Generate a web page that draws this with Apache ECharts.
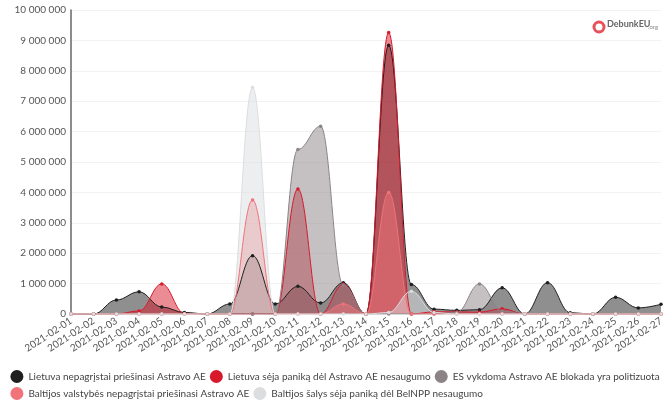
<!DOCTYPE html>
<html>
<head>
<meta charset="utf-8">
<script src="https://cdn.jsdelivr.net/npm/echarts@6/dist/echarts.min.js"></script>
<style>
  html, body { margin: 0; padding: 0; background: #fff; }
  #chart { width: 670px; height: 402px; }
</style>
</head>
<body>
<div id="chart"></div>
<script>
var dates = [
  "2021-02-01", "2021-02-02", "2021-02-03", "2021-02-04", "2021-02-05", "2021-02-06", "2021-02-07",
  "2021-02-08", "2021-02-09", "2021-02-10", "2021-02-11", "2021-02-12", "2021-02-13", "2021-02-14",
  "2021-02-15", "2021-02-16", "2021-02-17", "2021-02-18", "2021-02-19", "2021-02-20", "2021-02-21",
  "2021-02-22", "2021-02-23", "2021-02-24", "2021-02-25", "2021-02-26", "2021-02-27"
];

// Lietuva nepagrįstai priešinasi Astravo AE
var lietuvaPriesinasi = [
  0, 0, 460000, 730000, 230000, 50000, 0,
  330000, 1920000, 330000, 910000, 360000, 1030000, 0,
  8840000, 970000, 160000, 120000, 140000, 860000, 0,
  1030000, 40000, 0, 550000, 200000, 320000
];
// Lietuva sėja paniką dėl Astravo AE nesaugumo
var lietuvaPanika = [
  0, 0, 0, 100000, 990000, 20000, 0,
  0, 0, 0, 4110000, 0, 980000, 0,
  9260000, 0, 70000, 70000, 60000, 170000, 0,
  0, 0, 0, 0, 0, 0
];
// ES vykdoma Astravo AE blokada yra politizuota
var esBlokada = [
  0, 0, 0, 0, 0, 0, 0,
  0, 0, 0, 5410000, 6180000, 950000, 0,
  0, 0, 0, 50000, 990000, 100000, 0,
  0, 0, 0, 0, 0, 0
];
// Baltijos valstybės nepagrįstai priešinasi Astravo AE
var baltijosPriesinasi = [
  0, 0, 0, 0, 0, 0, 0,
  0, 3750000, 0, 0, 0, 330000, 0,
  4000000, 0, 0, 0, 0, 0, 0,
  0, 0, 0, 0, 0, 0
];
// Baltijos šalys sėja paniką dėl BelNPP nesaugumo
var baltijosPanika = [
  0, 0, 0, 0, 0, 0, 0,
  0, 7450000, 0, 0, 0, 0, 0,
  50000, 750000, 50000, 0, 0, 0, 0,
  0, 0, 0, 0, 0, 0
];

var seriesNames = [
  "Lietuva nepagrįstai priešinasi Astravo AE",
  "Lietuva sėja paniką dėl Astravo AE nesaugumo",
  "ES vykdoma Astravo AE blokada yra politizuota",
  "Baltijos valstybės nepagrįstai priešinasi Astravo AE",
  "Baltijos šalys sėja paniką dėl BelNPP nesaugumo"
];
var seriesData = [lietuvaPriesinasi, lietuvaPanika, esBlokada, baltijosPriesinasi, baltijosPanika];
var colors = ["#1f1f1f", "#d8192b", "#8b8385", "#f0737a", "#dcdddf"];

function spaced(v) {
  return String(v).replace(/\B(?=(\d{3})+(?!\d))/g, " ");
}

var chartDom = document.getElementById("chart");
var myChart = echarts.init(chartDom);
var option;

option = {
  animation: false,
  color: colors,
  textStyle: { fontFamily: "Lato" },
  grid: {
    left: 71,
    right: 9,
    top: 10,
    bottom: 88
  },
  legend: {
    data: seriesNames,
    left: "center",
    top: 365,
    width: 668,
    icon: "circle",
    itemWidth: 13,
    itemHeight: 13,
    itemGap: 4,
    textStyle: { fontSize: 10, color: "#444", fontFamily: "Lato" }
  },
  xAxis: {
    type: "category",
    boundaryGap: false,
    data: dates,
    axisLine: { show: false },
    axisTick: { show: false },
    axisLabel: {
      rotate: 33,
      interval: 0,
      fontSize: 10,
      color: "#555",
      margin: 6
    }
  },
  yAxis: {
    type: "value",
    min: 0,
    max: 10000000,
    interval: 1000000,
    axisLine: { show: true, lineStyle: { color: "#666", width: 1.5 } },
    axisTick: { show: false },
    splitLine: { lineStyle: { color: "#f2f2f2" } },
    axisLabel: {
      fontSize: 10,
      color: "#555",
      margin: 5,
      formatter: spaced
    }
  },
  graphic: [
    {
      type: "circle",
      shape: { cx: 599, cy: 27, r: 5 },
      style: { fill: "none", stroke: "#e8505b", lineWidth: 3 }
    },
    {
      type: "text",
      left: 607,
      top: 20,
      style: { text: "DebunkEU", fill: "#666", font: "bold 9px Lato" }
    },
    {
      type: "text",
      left: 648,
      top: 24,
      style: { text: ".org", fill: "#888", font: "6px Lato" }
    }
  ],
  series: seriesNames.map(function (name, i) {
    return {
      name: name,
      type: "line",
      smooth: 0.4,
      smoothMonotone: "x",
      data: seriesData[i],
      symbol: "circle",
      symbolSize: 3.5,
      lineStyle: { width: 1, color: colors[i] },
      itemStyle: { color: colors[i] },
      areaStyle: { color: colors[i], opacity: 0.5 }
    };
  })
};

option && myChart.setOption(option);
</script>
</body>
</html>
